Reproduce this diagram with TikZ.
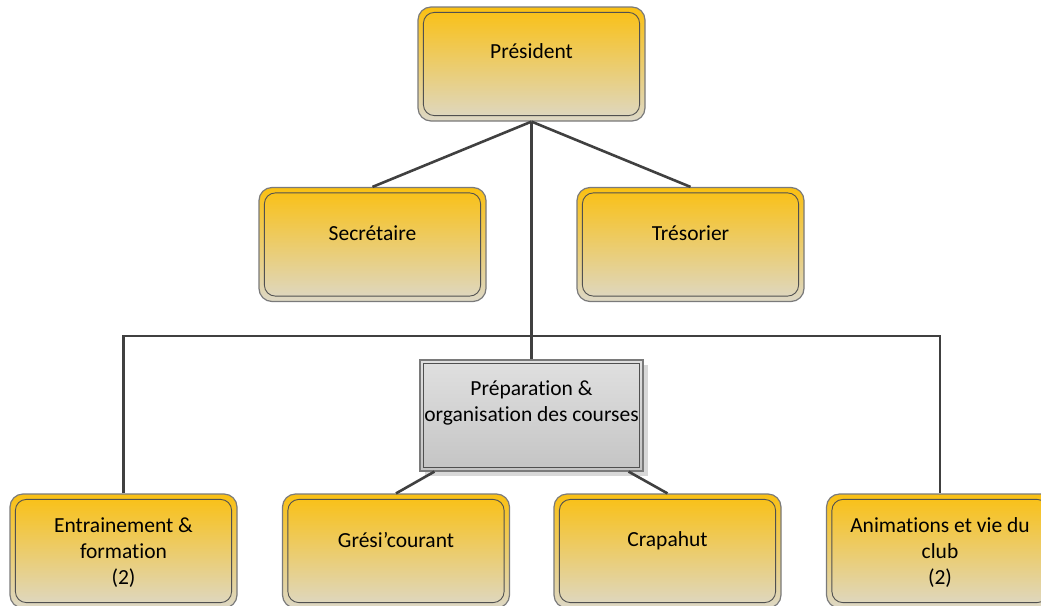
\documentclass[tikz,border=0pt]{standalone}
\usepackage{fontspec}
\setmainfont[RawFeature={-liga;-clig;-calt;-dlig}]{Carlito}
\newcommand{\nolig}{\kern0pt{}}
\usetikzlibrary{calc,shadows}
\definecolor{orTop}{HTML}{FAC012}
\definecolor{orMid}{HTML}{F0C858}
\definecolor{orBot}{HTML}{DDD8C6}
\definecolor{lineC}{HTML}{404040}
\definecolor{edgeC}{HTML}{7A7A7A}
\definecolor{innerC}{HTML}{505050}
\definecolor{gTop}{HTML}{E0E0E0}
\definecolor{gBot}{HTML}{C4C4C4}
\definecolor{shadC}{HTML}{D8D8D8}
\begin{document}
\begin{tikzpicture}[x=1pt,y=-1pt,
  box/.style={rectangle, rounded corners=13pt, minimum width=227pt, minimum height=114pt,
    top color=orTop, middle color=orMid, bottom color=orBot, draw=edgeC, line width=1.2pt, inner sep=0pt},
  gbox/.style={rectangle, minimum width=223pt, minimum height=111pt,
    top color=gTop, bottom color=gBot, draw=edgeC, line width=1.2pt, inner sep=0pt,
    drop shadow={shadow xshift=5pt, shadow yshift=-5pt, fill=shadC, opacity=1}},
  innerbox/.style={draw=innerC, line width=0.9pt, rounded corners=11pt},
  ginner/.style={draw=innerC, line width=1pt},
  txt/.style={font=\fontsize{21.5}{26}\selectfont, align=center, text=black, inner sep=0pt},
  conn/.style={draw=lineC, line width=2.6pt}]
\useasboundingbox (0,0) rectangle (1041,605);

\coordinate (hub) at (531.5,336);

% boxes
\node[box] (pres) at (531.5,64) {};
\node[box] (sec) at (372.5,244.5) {};
\node[box] (tres) at (690.5,244.5) {};
\node[box] (ent) at (123.5,551) {};
\node[box] (gres) at (396,551) {};
\node[box] (crap) at (667.5,551) {};
\node[box] (anim) at (940,551) {};
\node[gbox] (prep) at (531.5,415.5) {};

\foreach \n in {pres,sec,tres,ent,gres,crap,anim}{
  \draw[innerbox] ($(\n.north west)+(6,6)$) rectangle ($(\n.south east)+(-6,-6)$);
}
\draw[ginner] ($(prep.north west)+(4,4)$) rectangle ($(prep.south east)+(-4,-4)$);

\coordinate (prepL) at ($(prep.south west)!0.067!(prep.south east)$);
\coordinate (prepR) at ($(prep.south west)!0.933!(prep.south east)$);

\draw[conn] (pres.south) -- (sec.north);
\draw[conn] (pres.south) -- (tres.north);
\draw[conn] (pres.south) -- (prep.north);
\draw[conn] (ent.north) -- (ent.north |- hub) -- (anim.north |- hub) -- (anim.north);
\draw[conn] (prepL) -- (gres.north);
\draw[conn] (prepR) -- (crap.north);

% texts
\node[txt] (presT) at ($(pres.north)+(0,45)$) {Président};
\node[txt] (secT) at ($(sec.north)+(0,46)$) {Secrétaire};
\node[txt] (tresT) at ($(tres.north)+(0,46)$) {Trésorier};
\node[txt] (prepT) at ($(prep.north)+(0,44)$) {Préparat\nolig ion \&\\organisat\nolig ion des courses};
\node[txt] (entT) at ($(ent.north)+(0,59)$) {Entrainement \&\\formation\\(2)};
\node[txt] (gresT) at ($(gres.north)+(0,47)$) {Grési’courant};
\node[txt] (crapT) at ($(crap.north)+(0,47)$) {Crapahut};
\node[txt] (animT) at ($(anim.north)+(0,59)$) {Animat\nolig ions et vie du\\club\\(2)};
\end{tikzpicture}
\end{document}
